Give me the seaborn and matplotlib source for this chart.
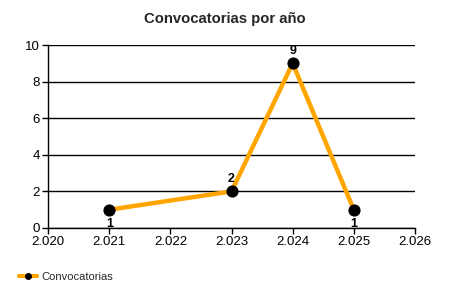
import matplotlib
matplotlib.use("Agg")
import matplotlib.pyplot as plt
import seaborn as sns
import pandas as pd
from matplotlib.ticker import FuncFormatter, MultipleLocator
from matplotlib.lines import Line2D

years = [2021, 2023, 2024, 2025]
counts = [1, 2, 9, 1]
series_name = "Convocatorias"
title = "Convocatorias por año"
label_below = [True, False, False, True]

sns.set_theme(style="white")
plt.rcParams['font.family'] = ['Liberation Sans', 'DejaVu Sans']

df = pd.DataFrame({"year": years, "count": counts})

fig = plt.figure(figsize=(4.5, 3), dpi=100)
ax = fig.add_axes([0.107, 0.24, 0.815, 0.61])

sns.lineplot(data=df, x="year", y="count", ax=ax, color="#FFA500", linewidth=3.2,
             marker="o", markersize=8, markerfacecolor="black", markeredgecolor="black",
             legend=False, zorder=3)

ax.set_xlim(2020, 2026)
ax.set_ylim(0, 10)
ax.xaxis.set_major_locator(MultipleLocator(1))
ax.yaxis.set_major_locator(MultipleLocator(2))
ax.xaxis.set_major_formatter(FuncFormatter(lambda v, p: f"{v/1000:.3f}"))
ax.yaxis.set_major_formatter(FuncFormatter(lambda v, p: f"{int(v)}"))
ax.grid(axis="y", color="black", linewidth=1)
ax.grid(axis="x", visible=False)
for s in ["top", "right"]:
    ax.spines[s].set_visible(False)
for s in ["left", "bottom"]:
    ax.spines[s].set_color("black")
    ax.spines[s].set_linewidth(1)
ax.tick_params(axis="both", direction="out", length=4, width=1, color="black",
               labelsize=9.5, labelcolor="black", pad=2, bottom=True, left=True)
ax.set_xlabel("")
ax.set_ylabel("")

for x, y, below in zip(years, counts, label_below):
    ax.annotate(str(y), (x, y), xytext=(0, -10 if below else 9), textcoords="offset points",
                ha="center", va="center", fontsize=9, fontweight="bold", color="black", zorder=4)

fig.suptitle(title, y=0.937, fontsize=10.7, fontweight="bold", va="center")

handle = Line2D([0], [0], color="#FFA500", linewidth=3, marker="o", markersize=4,
                markerfacecolor="black", markeredgecolor="black")
fig.legend([handle], [series_name], loc="center left", bbox_to_anchor=(0.03, 0.077),
           frameon=False, fontsize=8, handlelength=1.6, handletextpad=0.4, borderpad=0)

fig.savefig("out.png", dpi=100)
